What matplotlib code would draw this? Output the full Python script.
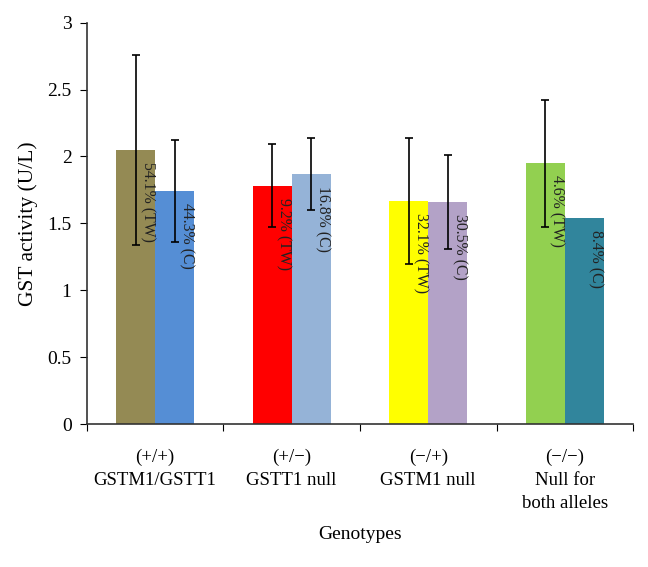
import numpy as np
import matplotlib
matplotlib.use('Agg')
import matplotlib.pyplot as plt
from matplotlib.ticker import FuncFormatter

plt.rcParams['font.family'] = ['Liberation Serif', 'DejaVu Serif']

# 資料
genotypes = ['(+/+)\nGSTM1/GSTT1', '(+/\u2212)\nGSTT1 null',
             '(\u2212/+)\nGSTM1 null', '(\u2212/\u2212)\nNull for\nboth alleles']
tw_mean = [2.05, 1.78, 1.67, 1.95]
tw_err = [0.71, 0.31, 0.47, 0.475]
c_mean = [1.74, 1.87, 1.66, 1.54]
c_err = [0.38, 0.27, 0.35, np.nan]
tw_pct = ['54.1% (TW)', '9.2% (TW)', '32.1% (TW)', '4.6% (TW)']
c_pct = ['44.3% (C)', '16.8% (C)', '30.5% (C)', '8.4% (C)']
tw_colors = ['#948A54', '#FF0000', '#FFFF00', '#92D050']
c_colors = ['#558ED5', '#95B3D7', '#B3A2C7', '#31859C']

fig = plt.figure(figsize=(6.48, 5.67), dpi=100)
ax = fig.add_axes([0.134, 0.252, 0.843, 0.708])

x = np.arange(len(genotypes))
w = 1 / 3.5  # Excel gap width 150%

ax.bar(x - w / 2, tw_mean, w, color=tw_colors, zorder=2)
ax.bar(x + w / 2, c_mean, w, color=c_colors, zorder=2)

err_kw = dict(fmt='none', ecolor='black', elinewidth=1.2, capsize=3, capthick=1.2, zorder=3)
ax.errorbar(x - w / 2, tw_mean, yerr=tw_err, **err_kw)
c_ok = ~np.isnan(c_err)
ax.errorbar((x + w / 2)[c_ok], np.array(c_mean)[c_ok], yerr=np.array(c_err)[c_ok], **err_kw)

# 百分比標籤
for i in x:
    ax.text(i - w / 2 + 0.085, tw_mean[i] - 0.09, tw_pct[i], rotation=270,
            ha='center', va='top', fontsize=11.3, color='#222222', zorder=4)
    ax.text(i + w / 2 + 0.085, c_mean[i] - 0.09, c_pct[i], rotation=270,
            ha='center', va='top', fontsize=11.3, color='#222222', zorder=4)

ax.set_xlim(-0.5, len(genotypes) - 0.5)
ax.set_ylim(0, 3)
ax.set_yticks(np.arange(0, 3.01, 0.5))
ax.yaxis.set_major_formatter(FuncFormatter(lambda v, p: f'{v:g}'))

ax.set_xticks(np.arange(-0.5, len(genotypes), 1))
ax.set_xticklabels([])
ax.set_xticks(x, minor=True)
ax.set_xticklabels(genotypes, minor=True, fontsize=13.5, linespacing=1.45)
ax.tick_params(axis='x', which='minor', length=0, pad=18)
ax.tick_params(axis='x', which='major', length=5, direction='out')
ax.tick_params(axis='y', length=5, labelsize=14, pad=6)

for s in ['top', 'right']:
    ax.spines[s].set_visible(False)
for s in ['left', 'bottom']:
    ax.spines[s].set_color('#333333')
    ax.spines[s].set_linewidth(1.2)

ax.set_ylabel('GST activity (U/L)', fontsize=15.5, labelpad=7)
fig.text(0.555, 0.057, 'Genotypes', ha='center', va='center', fontsize=14)

fig.savefig('out.png', dpi=100)
